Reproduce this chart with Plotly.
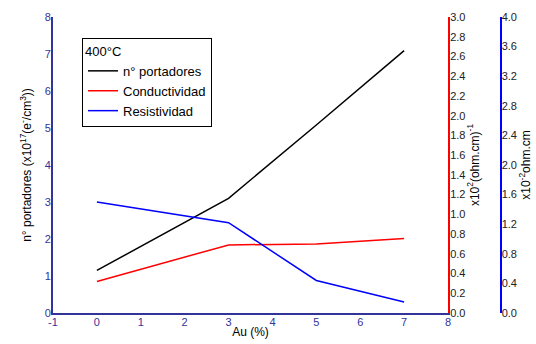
import plotly.graph_objects as go

au = [0, 3, 5, 7]
portadores = [1.15, 3.10, 5.08, 7.09]
conductividad = [0.32, 0.69, 0.70, 0.755]
resistividad = [1.50, 1.22, 0.44, 0.15]

x_ticks = list(range(-1, 9))
x_labels = ["-1", "0", "1", "2", "3", "4", "5", "6", "7", "8"]
left_ticks = list(range(0, 9))

navy = "#333399"
font_family = "Liberation Sans, Arial, sans-serif"

fig = go.Figure()
fig.add_trace(go.Scatter(x=au, y=portadores, mode="lines", name="n° portadores",
                         line=dict(color="black", width=1.5), yaxis="y"))
fig.add_trace(go.Scatter(x=au, y=conductividad, mode="lines", name="Conductividad",
                         line=dict(color="red", width=1.5), yaxis="y2"))
fig.add_trace(go.Scatter(x=au, y=resistividad, mode="lines", name="Resistividad",
                         line=dict(color="blue", width=1.5), yaxis="y3"))

W, H = 536, 344
ml, mr, mt, mb = 53, 12, 17, 31
pw = W - ml - mr

fig.update_layout(
    width=W, height=H,
    margin=dict(l=ml, r=mr, t=mt, b=mb),
    paper_bgcolor="white", plot_bgcolor="white",
    font=dict(family=font_family, size=11, color="black"),
    showlegend=True,
    legend=dict(
        x=(82 - ml) / pw, y=1 - (38 - mt) / (H - mt - mb),
        xanchor="left", yanchor="top",
        bgcolor="white", bordercolor="black", borderwidth=1,
        title=dict(text="400°C", font=dict(size=13, color="black")),
        font=dict(size=13, color="black"),
        tracegroupgap=0,
    ),
    xaxis=dict(
        domain=[0, (448 - ml) / pw],
        range=[-1, 8], tickvals=x_ticks, ticktext=x_labels,
        showgrid=False, zeroline=False,
        showline=True, linecolor=navy, linewidth=2, ticks="",
        ticklabelstandoff=-2,
        tickfont=dict(color=navy, size=11),
        title=dict(text="Au (%)", font=dict(size=12, color="black"), standoff=0),
        automargin=False,
    ),
    yaxis=dict(
        range=[0, 8], tickvals=left_ticks, showgrid=False, zeroline=False,
        showline=True, linecolor=navy, linewidth=2, ticks="",
        ticklabelstandoff=-2,
        tickfont=dict(color=navy, size=11),
        title=dict(text="n° portadores (x10<sup>17</sup>(e<sup>-</sup>/cm<sup>3</sup>))",
                   font=dict(size=12, color="black"), standoff=10),
        automargin=False,
    ),
    yaxis2=dict(
        overlaying="y", side="right", anchor="x",
        range=[0, 3], dtick=0.2, tick0=0, tickformat=".1f",
        showgrid=False, zeroline=False,
        showline=True, linecolor="red", linewidth=2, ticks="",
        ticklabelstandoff=-2,
        tickfont=dict(color="#222222", size=11),
        title=dict(text="x10<sup>2</sup>(ohm.cm)<sup>-1</sup>",
                   font=dict(size=12, color="black"), standoff=2),
        automargin=False,
    ),
    yaxis3=dict(
        overlaying="y", side="right", anchor="free",
        position=(500.5 - ml) / pw,
        range=[0, 4], dtick=0.4, tick0=0, tickformat=".1f",
        showgrid=False, zeroline=False,
        showline=True, linecolor="blue", linewidth=2, ticks="",
        ticklabelstandoff=-2,
        tickfont=dict(color="#222222", size=11),
        title=dict(text="x10<sup>-2</sup>ohm.cm",
                   font=dict(size=12, color="black"), standoff=2),
        automargin=False,
    ),
)

fig.write_html("out.html")
